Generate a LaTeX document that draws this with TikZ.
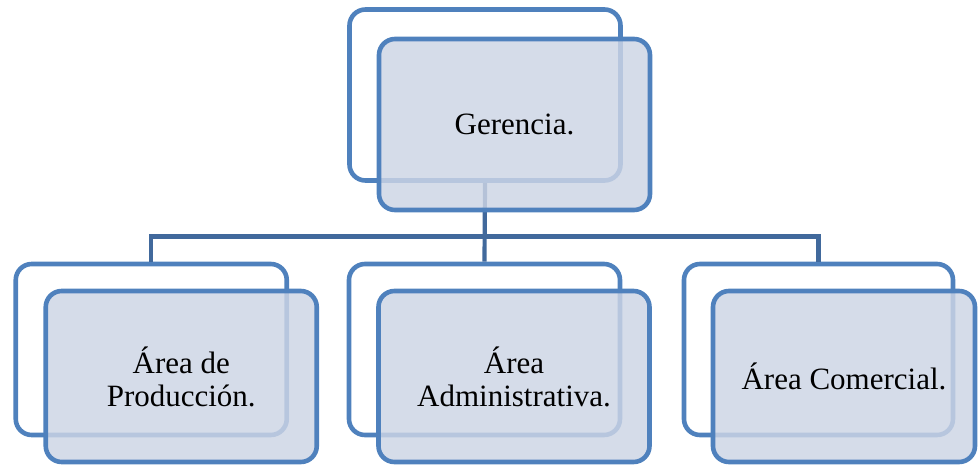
\documentclass[tikz,border=0pt]{standalone}
\usepackage{fontspec}
\setmainfont{Liberation Serif}
\definecolor{boxline}{HTML}{4F81BD}
\definecolor{boxfill}{HTML}{CDD5E5}
\definecolor{conn}{HTML}{41699C}
\begin{document}
\begin{tikzpicture}[x=1pt,y=-1pt,
  backbox/.style={draw=boxline, line width=4.6pt, rounded corners=16pt, inner sep=0pt,
    minimum width=271pt, minimum height=171pt},
  frontbox/.style={draw=boxline, line width=4.6pt, rounded corners=16pt, inner sep=0pt,
    minimum width=271pt, minimum height=171pt, fill=boxfill, fill opacity=0.83, text opacity=1,
    align=center, text=black, font=\fontsize{31}{33}\selectfont},
  connector/.style={draw=conn, line width=4.2pt, line join=miter}]
\useasboundingbox (0,0) rectangle (978,467);
% back boxes
\node[backbox] (tb) at (485,95) {};
\node[backbox] (lb) at (151.25,349.5) {};
\node[backbox] (mb) at (484.5,349.5) {};
\node[backbox, minimum width=269pt] (rb) at (818.5,349.5) {};
% connectors
\coordinate (bus) at (485,236.5);
\draw[connector] (tb.south) -- (mb.north);
\draw[connector] (lb.north) -- (lb.north |- bus) -- (rb.north |- bus) -- (rb.north);
% front boxes
\node[frontbox] (tf) at (514.5,124.5) {Gerencia.};
\node[frontbox] (lf) at (181.25,376.5) {Área de\\Producción.};
\node[frontbox] (mf) at (514,376.5) {Área\\Administrativa.};
\node[frontbox, minimum width=262pt] (rf) at (844,376.5) {Área Comercial.};
\end{tikzpicture}
\end{document}
